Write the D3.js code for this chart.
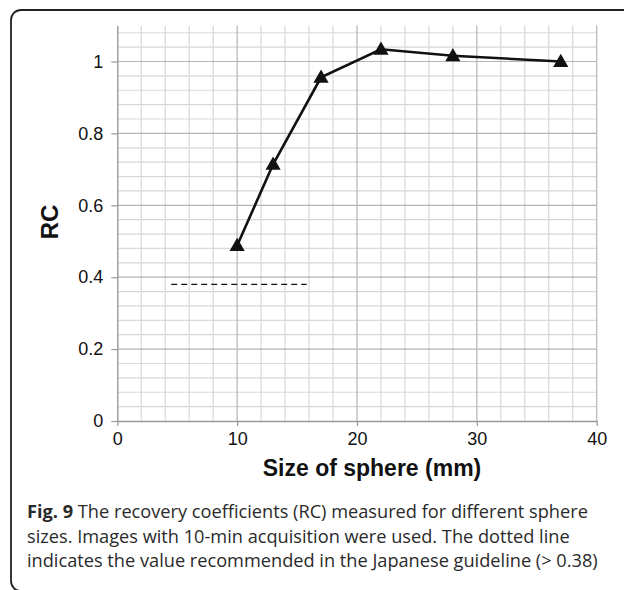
<!DOCTYPE html>
<html>
<head>
<meta charset="utf-8">
<script src="https://cdn.jsdelivr.net/npm/d3@7"></script>
<style>
  html, body { margin: 0; padding: 0; background: #fff; }
  svg { display: block; }
</style>
</head>
<body>
<svg id="chart" width="624" height="590"></svg>
<script>
// Sphere diameters (mm) and measured recovery coefficients
const sphereSizes = [10, 13, 17, 22, 28, 37];
const rcValues = [0.488, 0.714, 0.956, 1.034, 1.016, 1.0];

// Guideline threshold drawn as a dashed segment
const guidelineValue = 0.38;
const guidelineSpan = [4.5, 15.8];

// Axis ticks
const xTicks = [0, 10, 20, 30, 40];
const yTicks = [0, 0.2, 0.4, 0.6, 0.8, 1];
const xMinorStep = 2;
const yMinorStep = 0.04;

const captionLines = [
  ["Fig. 9", " The recovery coefficients (RC) measured for different sphere"],
  ["", "sizes. Images with 10-min acquisition were used. The dotted line"],
  ["", "indicates the value recommended in the Japanese guideline (> 0.38)"]
];

const svg = d3.select("#chart");

// Rounded frame around the figure (continues past the right and bottom edges)
svg.append("rect")
  .attr("x", 11).attr("y", 10)
  .attr("width", 700).attr("height", 581)
  .attr("rx", 10).attr("ry", 10)
  .attr("fill", "none")
  .attr("stroke", "#222")
  .attr("stroke-width", 1.8);

const x = d3.scaleLinear().domain([0, 40]).range([117.3, 596.7]);
const y = d3.scaleLinear().domain([0, 1.1]).range([421, 421 - 1.1 * 359.5]);

const grid = svg.append("g");

// Minor vertical grid lines
const xMinor = d3.range(0, 40 + 0.001, xMinorStep).filter(v => v % 10 !== 0);
grid.selectAll(".vmin").data(xMinor).enter().append("line")
  .attr("x1", d => x(d)).attr("x2", d => x(d))
  .attr("y1", y(0)).attr("y2", y(1.1))
  .attr("stroke", "#d8d8d8").attr("stroke-width", 1.2);

// Minor horizontal grid lines
const yMinor = d3.range(0, 1.1 + 0.001, yMinorStep)
  .map(v => +v.toFixed(2))
  .filter(v => Math.abs(v * 5 - Math.round(v * 5)) > 1e-6);
grid.selectAll(".hmin").data(yMinor).enter().append("line")
  .attr("x1", x(0)).attr("x2", x(40))
  .attr("y1", d => y(d)).attr("y2", d => y(d))
  .attr("stroke", "#d8d8d8").attr("stroke-width", 1.2);

// Major grid lines
grid.selectAll(".vmaj").data(xTicks.slice(1)).enter().append("line")
  .attr("x1", d => x(d)).attr("x2", d => x(d))
  .attr("y1", y(0)).attr("y2", y(1.1))
  .attr("stroke", "#b4b4b4").attr("stroke-width", 1.2);
grid.selectAll(".hmaj").data(yTicks.slice(1)).enter().append("line")
  .attr("x1", x(0)).attr("x2", x(40))
  .attr("y1", d => y(d)).attr("y2", d => y(d))
  .attr("stroke", "#b4b4b4").attr("stroke-width", 1.2);

// Axes
const tickFont = "'Liberation Sans', Arial, Helvetica, sans-serif";
const xAxis = svg.append("g")
  .attr("transform", `translate(0,${y(0)})`)
  .call(d3.axisBottom(x).tickValues(xTicks).tickSize(5).tickSizeOuter(0).tickPadding(6));
const yAxis = svg.append("g")
  .attr("transform", `translate(${x(0)},0)`)
  .call(d3.axisLeft(y).tickValues(yTicks).tickSize(6).tickSizeOuter(0).tickPadding(8)
    .tickFormat(d => d === 0 || d === 1 ? String(d) : d3.format(".1f")(d)));

[xAxis, yAxis].forEach(a => {
  a.select(".domain").attr("stroke", "#999").attr("stroke-width", 1.4);
  a.selectAll(".tick line").attr("stroke", "#999").attr("stroke-width", 1.2);
  a.selectAll(".tick text")
    .attr("fill", "#111")
    .style("font-family", tickFont)
    .style("font-size", "18px");
});

// Guideline (dashed)
svg.append("line")
  .attr("x1", x(guidelineSpan[0])).attr("x2", x(guidelineSpan[1]))
  .attr("y1", y(guidelineValue)).attr("y2", y(guidelineValue))
  .attr("stroke", "#111").attr("stroke-width", 1.4)
  .attr("stroke-dasharray", "6,4");

// Data line
const pts = sphereSizes.map((s, i) => [s, rcValues[i]]);
svg.append("path")
  .datum(pts)
  .attr("d", d3.line().x(d => x(d[0])).y(d => y(d[1])))
  .attr("fill", "none")
  .attr("stroke", "#111")
  .attr("stroke-width", 2.6);

// Triangle markers
const tri = d3.symbol().type(d3.symbolTriangle).size(100);
svg.selectAll(".marker").data(pts).enter().append("path")
  .attr("d", tri)
  .attr("transform", d => `translate(${x(d[0])},${y(d[1]) + 1})`)
  .attr("fill", "#111");

// Axis titles
svg.append("text")
  .attr("x", 372).attr("y", 476)
  .attr("text-anchor", "middle")
  .style("font-family", tickFont)
  .style("font-weight", "bold")
  .style("font-size", "23px")
  .attr("fill", "#111")
  .text("Size of sphere (mm)");

svg.append("text")
  .attr("transform", "translate(58,222) rotate(-90)")
  .attr("text-anchor", "middle")
  .style("font-family", tickFont)
  .style("font-weight", "bold")
  .style("font-size", "24px")
  .attr("fill", "#111")
  .text("RC");

// Caption: sized so the last line spans the text column
const capBase = [518, 543, 567];
const capWidth = 571;
const capNodes = captionLines.map((ln, i) => {
  const t = svg.append("text")
    .attr("x", 27).attr("y", capBase[i])
    .style("font-family", "'Open Sans', 'Noto Sans', sans-serif")
    .style("font-size", "17px")
    .attr("fill", "#2a2a2a");
  if (ln[0]) t.append("tspan").style("font-weight", "bold").text(ln[0]);
  t.append("tspan").text(ln[1]);
  return t;
});
const lastW = capNodes[2].node().getComputedTextLength();
const capSize = (17 * capWidth / lastW).toFixed(2) + "px";
capNodes.forEach(t => t.style("font-size", capSize));
</script>
</body>
</html>
